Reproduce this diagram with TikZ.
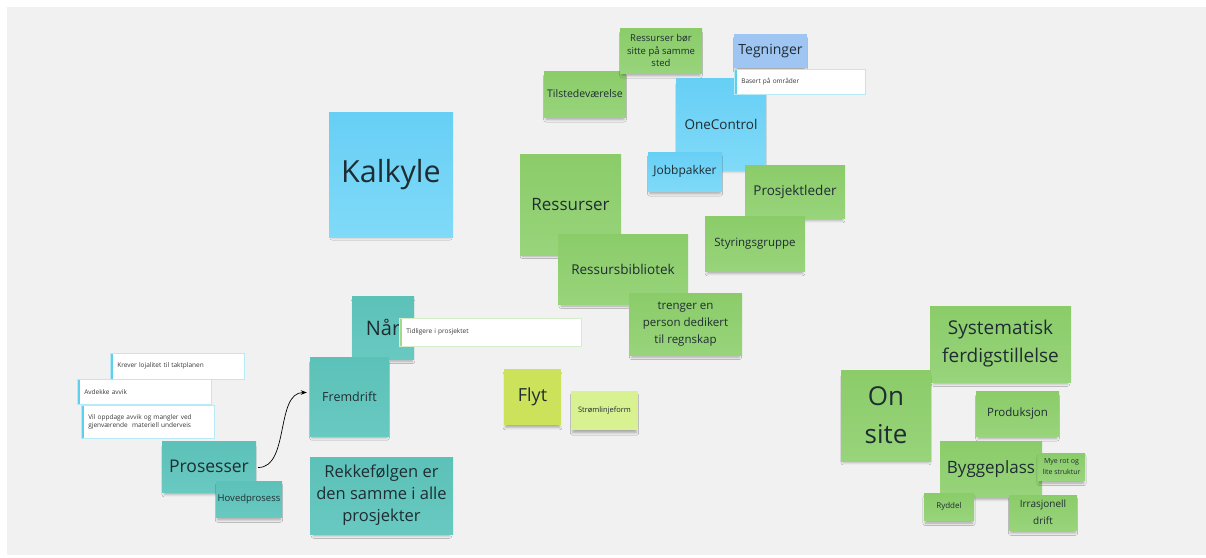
\documentclass[tikz,border=0pt]{standalone}
\usepackage{fontspec}
\setmainfont{Open Sans}
\usetikzlibrary{arrows.meta,shadows.blur}

\definecolor{canvas}{HTML}{F1F1F1}
\definecolor{ink}{HTML}{1F2D33}
\definecolor{cardink}{HTML}{3A3A3A}
\definecolor{blueA}{HTML}{67CFF5}
\definecolor{blueB}{HTML}{80DAF8}
\definecolor{paleblue}{HTML}{9FC5F2}
\definecolor{greenA}{HTML}{8BCC69}
\definecolor{greenB}{HTML}{98D47B}
\definecolor{tealA}{HTML}{5CC1B8}
\definecolor{tealB}{HTML}{68C9C1}
\definecolor{lime}{HTML}{CBE25A}
\definecolor{palelime}{HTML}{D8F191}
\definecolor{cyanedge}{HTML}{5ED0EC}
\definecolor{greenedge}{HTML}{A4D88A}

\tikzset{
  note/.style={draw=none, text=ink, align=center, inner sep=1pt,
    blur shadow={shadow xshift=0pt, shadow yshift=-4pt, shadow scale=0.95,
      shadow blur radius=2.5pt, shadow opacity=30}},
  bluenote/.style={note, top color=blueA, bottom color=blueB},
  tegnnote/.style={note, fill=paleblue},
  greennote/.style={note, top color=greenA, bottom color=greenB},
  tealnote/.style={note, top color=tealA, bottom color=tealB},
  limenote/.style={note, fill=lime},
  palelimenote/.style={note, fill=palelime},
  fs/.style 2 args={font=\fontsize{#1pt}{#2pt}\selectfont},
  card/.style={fill=white, draw=#1!45, line width=0.6pt, text=cardink,
    anchor=north west, align=left, inner xsep=7pt, inner ysep=2pt,
    font=\fontsize{6.5pt}{8.5pt}\selectfont,
    path picture={\fill[#1] (path picture bounding box.north west)
      rectangle ([xshift=2.2pt]path picture bounding box.south west);}},
  link/.style={-{Stealth[length=6pt,width=4.5pt]}, line width=0.7pt, black}
}

% sticky note: name, style, x1, y1, x2, y2, text
\newcommand\sticky[7]{%
  \node[#2, minimum width={(#5)-(#3)}, minimum height={(#6)-(#4)}]
    (#1) at ({((#3)+(#5))/2},{((#4)+(#6))/2}) {#7};}
% comment card: name, edge colour, x, y, width, height, text
\newcommand\remark[7]{%
  \node[card=#2, text width={(#5)-14}, minimum height={(#6)}]
    (#1) at (#3,#4) {#7};}

\begin{document}
\begin{tikzpicture}[x=1pt,y=-1pt]
\useasboundingbox (0,0) rectangle (1206,557);
\fill[white] (0,0) rectangle (1206,557);
\fill[canvas] (7,7) rectangle (1206,555);

% estimation
\sticky{kalkyle}{bluenote,fs={30.5}{36}}{329}{112}{453}{237}{Kalkyle}

% resources cluster
\sticky{tilsted}{greennote,fs={10.5}{13}}{544}{71}{626}{117}{Tilstedeværelse}
\sticky{samme}{greennote,fs={9.5}{12.5}}{620}{28}{702}{73}{Ressurser bør\\sitte på samme\\sted}
\sticky{tegn}{tegnnote,fs={14}{17}}{734}{34}{807}{68}{Tegninger}
\sticky{onecontrol}{bluenote,fs={13.5}{16}}{676}{78}{766}{170}{OneControl}
\remark{basert}{cyanedge}{734}{69}{131}{25}{Basert på områder}
\sticky{jobb}{bluenote,fs={12}{15}}{648}{152}{722}{191}{Jobbpakker}
\sticky{ressurser}{greennote,fs={17}{20}}{520}{154}{621}{255}{Ressurser}
\sticky{prosjektleder}{greennote,fs={13.5}{16}}{745}{165}{845}{218}{Prosjektleder}
\sticky{styring}{greennote,fs={11.5}{14}}{705}{216}{805}{271}{Styringsgruppe}
\sticky{bibliotek}{greennote,fs={13.5}{16}}{558}{234}{688}{304}{Ressursbibliotek}
\sticky{regnskap}{greennote,fs={11.5}{17}}{629}{293}{742}{355}{trenger en\\person dedikert\\til regnskap}

% process cluster
\sticky{naar}{tealnote,fs={20}{24}}{352}{296}{414}{359}{Når}
\remark{tidligere}{greenedge}{399}{318}{182}{28}{Tidligere i prosjektet}
\sticky{fremdrift}{tealnote,fs={12.5}{15}}{310}{357}{389}{436}{Fremdrift}
\remark{krever}{cyanedge}{110}{353}{134}{26}{Krever lojalitet til taktplanen}
\remark{avdekke}{cyanedge}{77}{379}{134}{25}{Avdekke avvik}
\remark{oppdage}{cyanedge}{81}{405}{133}{33}{Vil oppdage avvik og mangler ved\\gjenværende\ \ materiell underveis}
\sticky{prosesser}{tealnote,fs={17.5}{20}}{162}{441}{256}{492}{Prosesser}
\sticky{hoved}{tealnote,fs={9.5}{12}}{216}{481}{282}{517}{Hovedprosess}
\sticky{rekke}{tealnote,fs={16.5}{22}}{310}{457}{453}{534}{Rekkefølgen er\\den samme i alle\\prosjekter}

% flow
\sticky{flyt}{limenote,fs={18}{21}}{504}{369}{561}{425}{Flyt}
\sticky{strom}{palelimenote,fs={7.5}{9}}{571}{391}{638}{430}{Strømlinjeform}

% on site cluster
\sticky{system}{greennote,fs={19}{28}}{930}{306}{1071}{382}{Systematisk\\ferdigstillelse}
\sticky{onsite}{greennote,fs={26}{38}}{841}{370}{931}{461}{On\\site}
\sticky{produksjon}{greennote,fs={11.5}{14}}{976}{391}{1059}{436}{Produksjon}
\sticky{bygge}{greennote,fs={17}{20}}{940}{441}{1042}{497}{Byggeplass}
\sticky{rot}{greennote,fs={7}{11}}{1038}{453}{1085}{480}{Mye rot og\\lite struktur}
\sticky{ryddel}{greennote,fs={8}{10}}{924}{493}{974}{520}{Ryddel}
\sticky{irrasjonell}{greennote,fs={10}{17}}{1009}{495}{1077}{530}{Irrasjonell\\drift}

% connector
\draw[link] ([xshift=2pt,yshift=-1pt]prosesser.east) to[out=0,in=180,looseness=0.9]
  ([xshift=-3pt,yshift=4pt]fremdrift.west);
\end{tikzpicture}
\end{document}
